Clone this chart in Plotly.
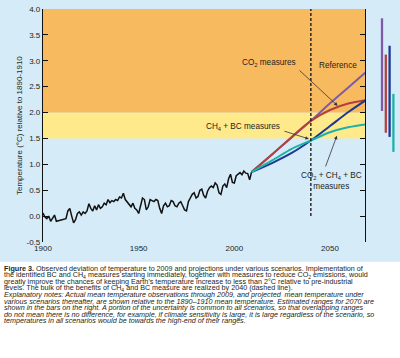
import plotly.graph_objects as go

# ---------------- data ----------------
obs_years = list(range(1900, 2010))
obs_temp = [0.06, -0.02, -0.05, 0.00, -0.10, -0.05, 0.02, -0.10, -0.09, -0.09,
            -0.08, -0.07, -0.05, 0.10, 0.15, 0.00, -0.13, -0.07, 0.05, 0.08,
            0.02, 0.08, 0.05, 0.10, 0.24, 0.15, 0.10, 0.20, 0.12, 0.22,
            0.15, 0.18, 0.25, 0.22, 0.32, 0.26, 0.30, 0.28, 0.32, 0.30,
            0.37, 0.35, 0.44, 0.32, 0.28, 0.22, 0.18, 0.25, 0.15, 0.12,
            0.05, 0.20, 0.35, 0.32, 0.12, 0.18, 0.32, 0.30, 0.28, 0.32,
            0.30, 0.15, 0.05, 0.20, 0.25, 0.18, 0.20, 0.30, 0.28, 0.20,
            0.18, 0.25, 0.28, 0.20, 0.12, 0.10, 0.28, 0.35, 0.42, 0.45,
            0.35, 0.38, 0.50, 0.52, 0.40, 0.35, 0.48, 0.55, 0.58, 0.55,
            0.64, 0.60, 0.45, 0.42, 0.58, 0.62, 0.55, 0.72, 0.81, 0.65,
            0.64, 0.78, 0.82, 0.84, 0.80, 0.87, 0.83, 0.82, 0.70, 0.85]

proj_years = [2009, 2020, 2030, 2040, 2050, 2060, 2070]
reference = [0.85, 1.20, 1.52, 1.84, 2.18, 2.50, 2.82]
co2_measures = [0.85, 1.20, 1.53, 1.84, 2.05, 2.18, 2.25]
ch4_bc_measures = [0.85, 1.03, 1.22, 1.46, 1.74, 2.02, 2.27]
all_measures = [0.85, 1.08, 1.30, 1.46, 1.62, 1.72, 1.78]

range_scenarios = ["Reference", "CO2", "CH4+BC", "CO2+CH4+BC"]
range_low = [2.03, 1.61, 1.53, 1.24]
range_high = [3.82, 3.12, 3.29, 2.36]

band_edges = [1.5, 2.0, 4.0]
mark_year = 2040

x_ticks = [1900, 1950, 2000, 2050]
y_ticks = [-0.5, 0.0, 0.5, 1.0, 1.5, 2.0, 2.5, 3.0, 3.5, 4.0]
y_tick_labels = ["-0.5", "0.0", "0.5", "1.0", "1.5", "2.0", "2.5", "3.0", "3.5", "4.0"]

# ---------------- styling ----------------
C_PURPLE = "#7d5ba6"
C_RED = "#b3403c"
C_NAVY = "#1c3893"
C_TEAL = "#1db2a9"
C_ORANGE = "#f8ba5e"
C_YELLOW = "#fee98b"
C_BLUE_BG = "#d5ebf8"
TXT = "#231f20"
FONT = "Liberation Sans"

W, H = 400, 358
ML, MR, MT, MB = 43, 5, 5, 116
PW = W - ML - MR
PH = H - MT - MB
X_MAX = 2068.3


def px_x(px):
    return (px - ML) / PW


def px_y(py):
    return (H - MB - py) / PH


fig = go.Figure()

fig.add_trace(go.Scatter(x=obs_years, y=obs_temp, mode="lines",
                         line=dict(color="#111111", width=1.5), hoverinfo="skip"))
for vals, col in [(reference, C_PURPLE), (co2_measures, C_RED),
                  (ch4_bc_measures, C_NAVY), (all_measures, C_TEAL)]:
    fig.add_trace(go.Scatter(x=proj_years, y=vals, mode="lines",
                             line=dict(color=col, width=2, shape="spline", smoothing=0.8),
                             hoverinfo="skip"))

bar_colors = [C_PURPLE, C_RED, C_NAVY, C_TEAL]
fig.add_trace(go.Bar(x=range_scenarios,
                     y=[h - l for h, l in zip(range_high, range_low)],
                     base=range_low, marker=dict(color=bar_colors, line=dict(width=0)),
                     width=0.6, xaxis="x4", yaxis="y2", hoverinfo="skip"))

# bands
band_colors = [C_YELLOW, C_ORANGE]
for i in range(2):
    fig.add_shape(type="rect", xref="x", yref="y", x0=1900, x1=X_MAX,
                  y0=band_edges[i], y1=band_edges[i + 1],
                  fillcolor=band_colors[i], line=dict(width=0), layer="below")

# white caption area
fig.add_shape(type="rect", xref="paper", yref="paper", x0=px_x(-5), x1=px_x(405),
              y0=px_y(365), y1=px_y(262), fillcolor="white", line=dict(width=0),
              layer="below")

# dashed 2040 line
fig.add_shape(type="line", xref="x", yref="y", x0=mark_year, x1=mark_year, y0=0, y1=4.0,
              line=dict(color="#111111", width=1.3, dash="3px,2px"), layer="above")

ann_font = dict(family=FONT, size=8.2, color=TXT)
fig.add_annotation(x=2018.1, y=2.95, text="CO<sub>2</sub> measures", showarrow=False, font=ann_font)
fig.add_annotation(x=2054.3, y=2.91, text="Reference", showarrow=False, font=ann_font)
fig.add_annotation(x=2004.3, y=1.73, text="CH<sub>4</sub> + BC measures", showarrow=False, font=ann_font)
fig.add_annotation(x=2050.6, y=0.67, text="CO<sub>2</sub> + CH<sub>4</sub> + BC<br>measures",
                   showarrow=False, font=ann_font)

arrow_kw = dict(showarrow=True, arrowhead=2, arrowsize=0.9, arrowwidth=0.8,
                arrowcolor="#333333", axref="x", ayref="y", text="")
fig.add_annotation(x=2054.0, y=2.13, ax=2033.3, ay=2.84, **arrow_kw)
fig.add_annotation(x=2039.0, y=1.49, ax=2025.4, ay=1.65, **arrow_kw)
fig.add_annotation(x=2053.6, y=1.55, ax=2047.4, ay=0.93, **arrow_kw)

# y-axis title
fig.add_annotation(xref="paper", yref="paper", x=px_x(13), y=0.5,
                   text="Temperature (°C) relative to 1890-1910", textangle=-90,
                   showarrow=False, font=dict(family=FONT, size=8, color=TXT))

# caption
cap_lines = [
    "<b>Figure 3.</b> Observed deviation of temperature to 2009 and projections under various scenarios. Implementation of",
    "the identified BC and CH<sub>4</sub> measures starting immediately, together with measures to reduce CO<sub>2</sub> emissions, would",
    "greatly improve the chances of keeping Earth’s temperature increase to less than 2°C relative to pre-industrial",
    "levels. The bulk of the benefits of CH<sub>4</sub> and BC measure are realized by 2040 (dashed line).",
    "<i>Explanatory notes: Actual mean temperature observations through 2009, and projected  mean temperature under</i>",
    "<i>various scenarios thereafter, are shown relative to the 1890–1910 mean temperature. Estimated ranges for 2070 are</i>",
    "<i>shown in the bars on the right. A portion of the uncertainty is common to all scenarios, so that overlapping ranges</i>",
    "<i>do not mean there is no difference, for example, if climate sensitivity is large, it is large regardless of the scenario, so</i>",
    "<i>temperatures in all scenarios would be towards the high-end of their ranges.</i>",
]
for i, line in enumerate(cap_lines):
    fig.add_annotation(xref="paper", yref="paper", x=px_x(2), y=px_y(269.3 + i * 6.6),
                       xanchor="left", yanchor="middle", text=line, showarrow=False,
                       font=dict(family=FONT, size=7.2, color=TXT))

axis_font = dict(family=FONT, size=8, color=TXT)
main_dom = [0, (365 - ML) / PW]
fig.update_layout(
    width=W, height=H, margin=dict(l=ML, r=MR, t=MT, b=MB),
    paper_bgcolor=C_BLUE_BG, plot_bgcolor=C_BLUE_BG, showlegend=False,
    xaxis=dict(domain=main_dom, range=[1900, X_MAX], tickvals=x_ticks, ticks="",
               showline=False, showgrid=False, zeroline=False, tickfont=axis_font),
    xaxis2=dict(overlaying="x", anchor="free", position=0.5 / 4.5, range=[1900, X_MAX],
                showline=True, linecolor="#111111", linewidth=1.2, ticks="inside",
                ticklen=5, tickwidth=1.2, tickcolor="#111111", dtick=10, tick0=1900,
                showticklabels=False, showgrid=False, zeroline=False),
    xaxis3=dict(overlaying="x", anchor="y", side="top", range=[1900, X_MAX],
                showline=True, linecolor="#111111", linewidth=1.2, ticks="inside",
                ticklen=5, tickwidth=1.2, tickcolor="#111111", dtick=10, tick0=1900,
                showticklabels=False, showgrid=False, zeroline=False),
    xaxis4=dict(domain=[main_dom[1], 1], anchor="y2", type="category",
                range=[-4.47, 3.42], visible=False),
    yaxis=dict(range=[-0.5, 4.0], tickvals=y_ticks, ticktext=y_tick_labels,
               showline=True, mirror="ticks", linecolor="#111111", linewidth=1.2,
               ticks="inside", ticklen=5, tickwidth=1.2, tickcolor="#111111",
               showgrid=False, zeroline=False, tickfont=axis_font),
    yaxis2=dict(anchor="x4", range=[-0.5, 4.0], visible=False),
)

fig.write_html("out.html", config={"displayModeBar": False},
               post_script="document.body.style.margin='0';document.body.style.overflow='hidden';")
